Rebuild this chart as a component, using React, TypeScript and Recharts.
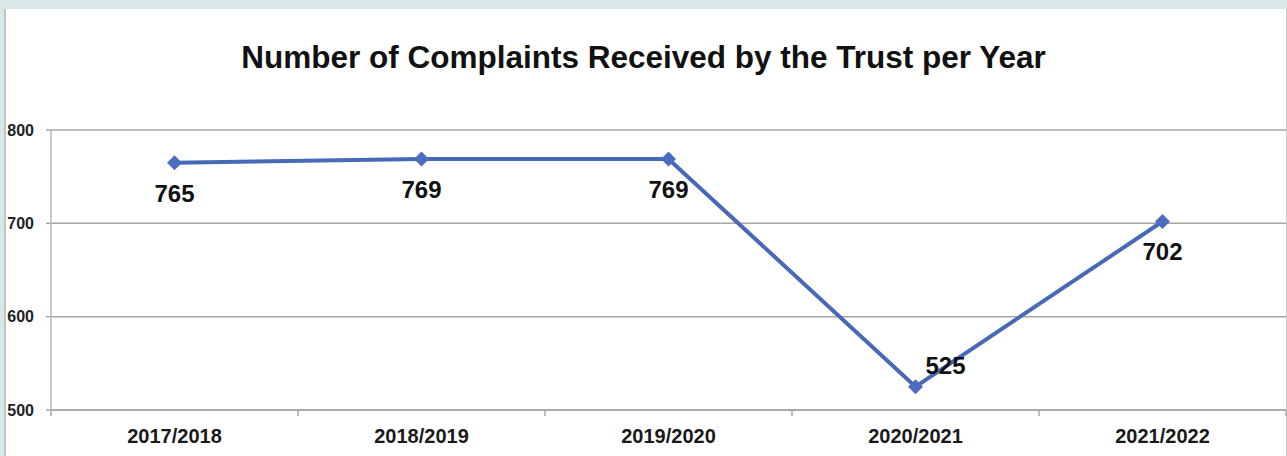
import React from "react";
import { LineChart, Line, XAxis, YAxis, CartesianGrid, LabelList } from "recharts";

const years = ["2017/2018", "2018/2019", "2019/2020", "2020/2021", "2021/2022"];
const complaints = [765, 769, 769, 525, 702];
const yTicks = [500, 600, 700, 800];

const data = years.map((year, i) => ({ year, complaints: complaints[i] }));
const minValue = Math.min(...complaints);

const FONT = "'Liberation Sans', Arial, Helvetica, sans-serif";
const BLUE = "#4669b8";
const GRID = "#a6a6a6";
const X_TICK_SIZE = 6;
const X_TICK_MARGIN = 13;

const Diamond = (props: any) => {
  const { cx, cy } = props;
  if (cx == null || cy == null) return null;
  const r = 7.5;
  return (
    <polygon
      points={`${cx},${cy - r} ${cx + r},${cy} ${cx},${cy + r} ${cx - r},${cy}`}
      fill="#4a6ebf"
      stroke="none"
    />
  );
};

const ValueLabel = (props: any) => {
  const { x, y, value } = props;
  if (x == null || y == null) return null;
  const isMin = value === minValue;
  return (
    <text
      x={isMin ? x + 30 : x}
      y={isMin ? y - 13 : y + 39}
      textAnchor="middle"
      fontFamily={FONT}
      fontWeight="bold"
      fontSize={24}
      fill="#111"
    >
      {value}
    </text>
  );
};

const CategoryTick = (props: any) => {
  const { x, y, payload, index, visibleTicksCount } = props;
  const half = payload && payload.offset ? payload.offset : 0;
  const axisY = y - X_TICK_SIZE - X_TICK_MARGIN;
  const isLast = index === (visibleTicksCount ?? years.length) - 1;
  return (
    <g>
      {half > 0 && (
        <line x1={x - half} x2={x - half} y1={axisY} y2={axisY + 6} stroke={GRID} strokeWidth={1.5} />
      )}
      {half > 0 && isLast && (
        <line x1={x + half} x2={x + half} y1={axisY} y2={axisY + 6} stroke={GRID} strokeWidth={1.5} />
      )}
      <text
        x={x}
        y={y}
        dy="0.71em"
        textAnchor="middle"
        fontFamily={FONT}
        fontWeight="bold"
        fontSize={20}
        fill="#1a1a1a"
      >
        {payload.value}
      </text>
    </g>
  );
};

export default function App() {
  return (
    <div
      style={{
        position: "absolute",
        left: 0,
        top: 0,
        width: 1287,
        height: 456,
        background: "#fff",
        overflow: "hidden",
        fontFamily: FONT,
      }}
    >
      <div style={{ position: "absolute", left: 0, top: 0, width: 1287, height: 9, background: "#d8e7e7" }} />
      <div style={{ position: "absolute", left: 0, top: 0, width: 4, height: 456, background: "#d8e7e7" }} />
      <div style={{ position: "absolute", left: 4, top: 9, width: 2, height: 447, background: "#c4c4c4" }} />
      <div style={{ position: "absolute", left: 1286, top: 9, width: 1, height: 447, background: "#c8c8c8" }} />
      <div
        style={{
          position: "absolute",
          left: 0,
          top: 42,
          width: 1287,
          textAlign: "center",
          fontSize: 31.5,
          lineHeight: "31px",
          fontWeight: "bold",
          color: "#111",
          whiteSpace: "nowrap",
        }}
      >
        Number of Complaints Received by the Trust per Year
      </div>
      <div style={{ position: "absolute", left: 0, top: 0 }}>
        <LineChart
          width={1287}
          height={456}
          data={data}
          margin={{ top: 130, right: 1, left: 0, bottom: 16 }}
        >
          <CartesianGrid vertical={false} stroke={GRID} strokeWidth={1.5} />
          <XAxis
            dataKey="year"
            type="category"
            scale="band"
            tickLine={false}
            axisLine={{ stroke: GRID, strokeWidth: 1.5 }}
            tickSize={X_TICK_SIZE}
            tickMargin={X_TICK_MARGIN}
            height={30}
            interval={0}
            tick={<CategoryTick />}
          />
          <YAxis
            domain={[500, 800]}
            ticks={yTicks}
            width={51}
            axisLine={{ stroke: "#c8c8c8", strokeWidth: 2 }}
            tickLine={{ stroke: GRID, strokeWidth: 1.5 }}
            tickSize={5}
            tickMargin={12}
            tick={{ fontFamily: FONT, fontWeight: "bold", fontSize: 16, fill: "#222" }}
          />
          <Line
            type="linear"
            dataKey="complaints"
            stroke={BLUE}
            strokeWidth={4}
            dot={<Diamond />}
            activeDot={false}
            isAnimationActive={false}
          >
            <LabelList dataKey="complaints" content={<ValueLabel />} />
          </Line>
        </LineChart>
      </div>
    </div>
  );
}
